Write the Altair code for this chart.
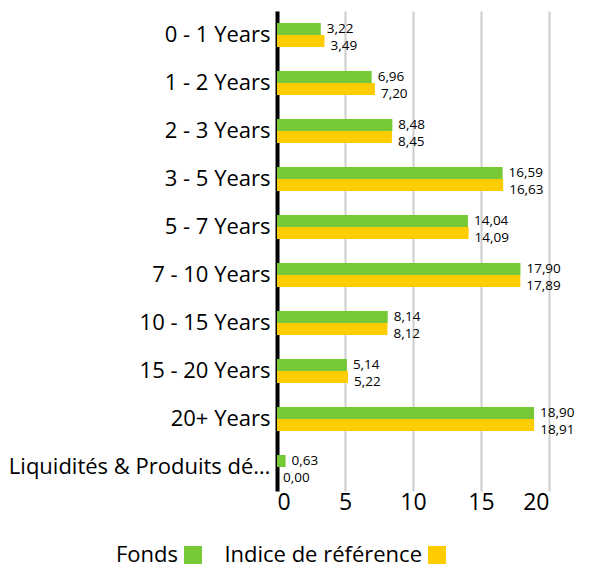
import altair as alt
import pandas as pd

categories = ["0 - 1 Years", "1 - 2 Years", "2 - 3 Years", "3 - 5 Years", "5 - 7 Years",
              "7 - 10 Years", "10 - 15 Years", "15 - 20 Years", "20+ Years",
              "Liquidités & Produits dérivés"]
fonds = [3.22, 6.96, 8.48, 16.59, 14.04, 17.90, 8.14, 5.14, 18.90, 0.63]
indice = [3.49, 7.20, 8.45, 16.63, 14.09, 17.89, 8.12, 5.22, 18.91, 0.00]
series = ["Fonds", "Indice de référence"]
colors = ["#76c934", "#ffcc00"]

rows = []
for c, f, i in zip(categories, fonds, indice):
    rows.append({"cat": c, "serie": series[0], "val": f, "lab": f"{f:.2f}".replace(".", ",")})
    rows.append({"cat": c, "serie": series[1], "val": i, "lab": f"{i:.2f}".replace(".", ",")})
df = pd.DataFrame(rows)

FONT = "Open Sans"

y = alt.Y("cat:N", sort=categories, title=None,
          scale=alt.Scale(paddingInner=0.5, paddingOuter=0.25),
          axis=alt.Axis(labelFontSize=22, labelColor="#000", labelFont=FONT, ticks=False,
                        domain=True, domainColor="#000", domainWidth=4, labelPadding=7,
                        labelLimit=264, grid=False))
x = alt.X("val:Q", title=None, scale=alt.Scale(domain=[0, 20], nice=False),
          axis=alt.Axis(values=[0, 5, 10, 15, 20], labelFontSize=23, labelColor="#000",
                        labelFont=FONT, ticks=False, domain=False, grid=True,
                        gridColor="#cccccc", gridWidth=2, labelPadding=0))

base = alt.Chart(df).encode(
    y=y,
    yOffset=alt.YOffset("serie:N", sort=series, scale=alt.Scale(paddingInner=0, paddingOuter=0)),
)

bars = base.mark_bar(size=12).encode(
    x=x,
    color=alt.Color("serie:N", sort=series, scale=alt.Scale(domain=series, range=colors),
                    legend=alt.Legend(title=None, orient="none", legendX=-95, legendY=533,
                                      direction="horizontal",
                                      symbolType="square", symbolSize=324, symbolStrokeWidth=0,
                                      labelFontSize=22, labelFont=FONT, labelColor="#000",
                                      labelAlign="right", labelOffset={"expr": "-26"},
                                      columnPadding=22, labelLimit=300)),
)

txt_f = base.mark_text(align="left", dx=6, dy=0, fontSize=13.5, font=FONT, color="#000").encode(
    x="val:Q", text="lab:N").transform_filter(alt.datum.serie == series[0])
txt_i = base.mark_text(align="left", dx=6, dy=5, fontSize=13.5, font=FONT, color="#000").encode(
    x="val:Q", text="lab:N").transform_filter(alt.datum.serie == series[1])

chart = alt.layer(bars, txt_f, txt_i).properties(
    width=272, height=480,
    padding={"left": 0, "top": 3, "right": 0, "bottom": 0},
).configure_view(stroke=None)

chart.save("out.html", embed_options={"renderer": "svg", "actions": False})
